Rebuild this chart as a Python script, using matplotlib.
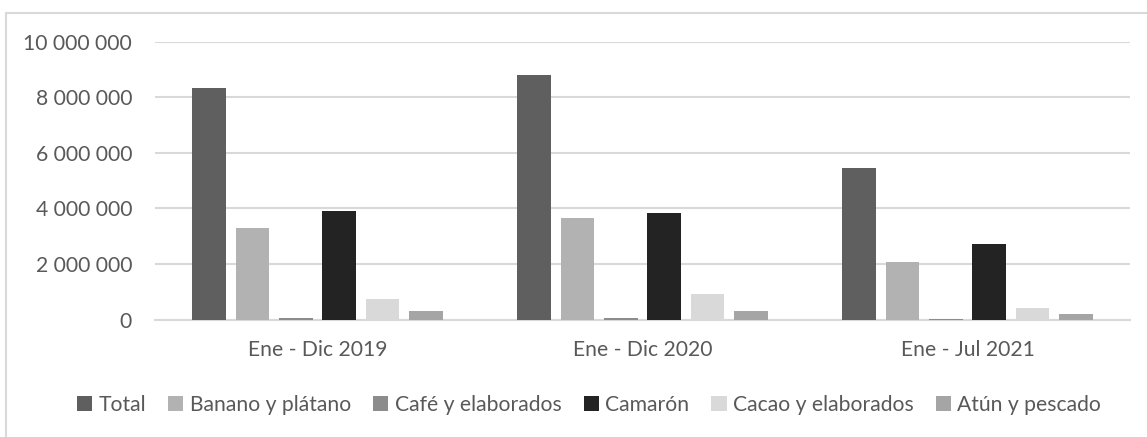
import matplotlib
matplotlib.use("Agg")
import matplotlib.pyplot as plt
import matplotlib.ticker as mticker
from matplotlib.patches import Rectangle, Patch
import numpy as np

# ── Data ────────────────────────────────────────────────────────────────────
periods = ["Ene - Dic 2019", "Ene - Dic 2020", "Ene - Jul 2021"]
series_names = ["Total", "Banano y plátano", "Café y elaborados",
                "Camarón", "Cacao y elaborados", "Atún y pescado"]
total    = [8_340_000, 8_810_000, 5_460_000]
banano   = [3_280_000, 3_650_000, 2_060_000]
cafe     = [55_000, 50_000, 20_000]
camaron  = [3_890_000, 3_820_000, 2_720_000]
cacao    = [750_000, 920_000, 430_000]
atun     = [295_000, 310_000, 200_000]

# ── Style ───────────────────────────────────────────────────────────────────
COLORS = ["#5f5f5f", "#b2b2b2", "#8c8c8c", "#232323", "#d9d9d9", "#a5a5a5"]
TXT = "#595959"
GRID = "#d9d9d9"
FONT = "Lato"

fig = plt.figure(figsize=(11.47, 4.37), dpi=100, facecolor="white")
ax = fig.add_axes([155/1147, 1 - 319.5/437, 975/1147, (319.5 - 41.7)/437])

# ── Bars ────────────────────────────────────────────────────────────────────
x = np.arange(len(periods))
pitch = 0.1332
width = 0.1037
all_series = [total, banano, cafe, camaron, cacao, atun]
for i, (vals, col, name) in enumerate(zip(all_series, COLORS, series_names)):
    ax.bar(x + (i - 2.5) * pitch, vals, width, color=col, label=name, zorder=3)

ax.set_xlim(-0.5, 2.5)
ax.set_ylim(0, 10_000_000)
ax.set_yticks(np.arange(0, 10_000_001, 2_000_000))
ax.yaxis.set_major_formatter(mticker.FuncFormatter(
    lambda v, _: f"{int(v):,}".replace(",", " ")))
ax.set_xticks(x)
ax.set_xticklabels(periods)

ax.grid(axis="y", color=GRID, linewidth=1.5, zorder=0)
ax.set_axisbelow(True)
for s in ["top", "right", "left"]:
    ax.spines[s].set_visible(False)
ax.spines["bottom"].set_color(GRID)
ax.spines["bottom"].set_linewidth(1.5)
ax.tick_params(axis="both", length=0, colors=TXT, labelsize=15.2)
ax.tick_params(axis="y", pad=16.5)
ax.tick_params(axis="x", pad=15)
for lab in ax.get_xticklabels() + ax.get_yticklabels():
    lab.set_fontfamily(FONT)

# ── Legend ──────────────────────────────────────────────────────────────────
handles = [Patch(facecolor=c, edgecolor="none") for c in COLORS]
fig.legend(handles, series_names, loc="center", bbox_to_anchor=(589/1147, 1 - 405/437),
           ncol=6, frameon=False, handlelength=0.72, handleheight=0.72,
           handletextpad=0.3, columnspacing=1.05, labelcolor=TXT,
           prop={"family": FONT, "size": 15.2})

# ── Outer frame ─────────────────────────────────────────────────────────────
fig.add_artist(Rectangle((6/1147, -0.2), 1.2, 1.2 - 12.5/437, transform=fig.transFigure,
                         fill=False, edgecolor=GRID, linewidth=1.5))

plt.savefig("out.png", dpi=100, facecolor="white")
